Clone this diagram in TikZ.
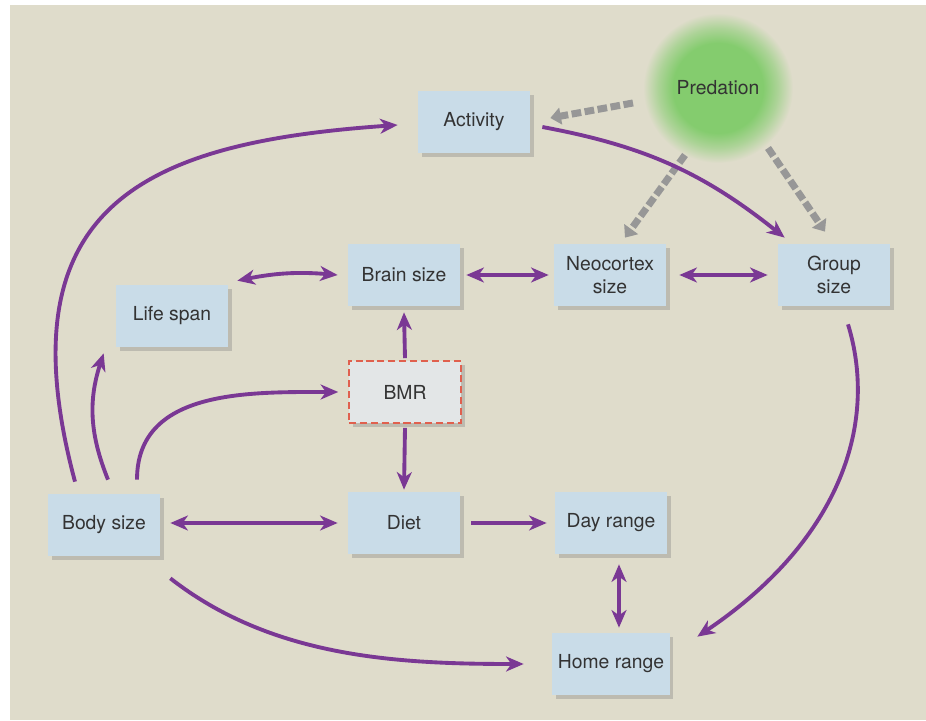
\documentclass[tikz,border=0pt]{standalone}
\usepackage{fontspec}
\setmainfont{TeX Gyre Heros}
\usepackage{xcolor}
\usepackage{tikz}
\usetikzlibrary{arrows.meta}
\usetikzlibrary{shadows}
\usetikzlibrary{calc}
\definecolor{bg}{HTML}{DFDCCB}
\definecolor{boxblue}{HTML}{C9DCE8}
\definecolor{linkpurple}{HTML}{7A3894}
\definecolor{predgreen}{HTML}{84CC6E}
\definecolor{dashgray}{HTML}{979797}
\definecolor{bmrred}{HTML}{E0604E}
\definecolor{bmrfill}{HTML}{E3E6E7}
\pgfdeclareradialshading{predglow}{\pgfpointorigin}{color(0bp)=(predgreen); color(15bp)=(predgreen); color(20bp)=(predgreen!55!bg); color(25bp)=(bg); color(50bp)=(bg)}
\tikzset{ var_box/.style = {rectangle, fill=boxblue, minimum width=2.24cm, minimum height=1.24cm, align=center, text=black!80, font=\fontsize{11}{13.5}\selectfont, drop shadow={shadow xshift=2pt, shadow yshift=-2.5pt, opacity=0.35}} }
\tikzset{ bmr_box/.style = {var_box, fill=bmrfill, draw=bmrred, line width=0.9pt, dash pattern=on 4pt off 2.2pt} }
\tikzset{ pred_node/.style = {circle, minimum size=3cm, shading=predglow, text=black!80, font=\fontsize{11}{13.5}\selectfont} }
\tikzset{ link/.style = {line width=2.2pt, draw=linkpurple, -{Stealth[length=10pt,width=8.5pt,inset=3pt]}} }
\tikzset{ both_link/.style = {link, {Stealth[length=10pt,width=8.5pt,inset=3pt]}-{Stealth[length=10pt,width=8.5pt,inset=3pt]}} }
\tikzset{ pred_link/.style = {line width=4pt, draw=dashgray, dash pattern=on 5.5pt off 2pt, -{Triangle[length=6pt,width=9.5pt]}} }

\begin{document}
\begin{tikzpicture}[x=0.02cm,y=0.02cm]
            \useasboundingbox (0,0) rectangle (926,720);
            \fill[white] (0,0) rectangle (926,720);
            \fill[bg] (10,0) rectangle (926,715);
            \node [style=pred_node] (pred) at (718,632) {Predation};
            \node [style=var_box] (act) at (474,598) {Activity};
            \node [style=var_box] (brain) at (404,445) {Brain size};
            \node [style=var_box] (neo) at (610,445) {Neocortex\\size};
            \node [style=var_box] (group) at (834,445) {Group\\size};
            \node [style=var_box] (life) at (172,404) {Life span};
            \node [style=bmr_box] (bmr) at (405,328) {BMR};
            \node [style=var_box] (body) at (104,195) {Body size};
            \node [style=var_box] (diet) at (404,197) {Diet};
            \node [style=var_box] (day) at (611,197) {Day range};
            \node [style=var_box] (home) at (611,56) {Home range};
            % predation pressure
            \draw[style=pred_link] ($(pred.center)+(-85,-15)$) to ($(act.east)+(20,4)$);
            \draw[style=pred_link] ($(pred.center)+(-33,-67)$) to ($(neo.north)+(15,6)$);
            \draw[style=pred_link] ($(pred.center)+(50,-60)$) to ($(group.north)+(-9,12)$);
            % body size effects
            \draw[style=link] ($(body.north)+(-29,12)$) to[out=105,in=184,out looseness=1.54,in looseness=1.32] ($(act.west)+(-20,-3)$);
            \draw[style=link] ($(body.north)+(4,14)$) to[bend left=20] ($(life.south west)+(-12,-6)$);
            \draw[style=link] ($(body.north)+(33,14)$) to[out=90,in=180,looseness=1.05] ($(bmr.west)+(-10,0)$);
            \draw[style=both_link] ($(body.east)+(10,2)$) to ($(diet.west)+(-10,0)$);
            \draw[style=link] ($(body.south east)+(10,-22)$) to[out=-38,in=180,looseness=0.9] ($(home.west)+(-28,0)$);
            \draw[style=both_link] ($(life.north east)+(9,4)$) to[bend left=8] ($(brain.west)+(-10,0)$);
            \draw[style=link] ($(bmr.north)+(0,2)$) to ($(brain.south)+(0,-6)$);
            \draw[style=link] ($(bmr.south)+(0,-4)$) to ($(diet.north)+(0,2)$);
            \draw[style=both_link] ($(brain.east)+(6,0)$) to ($(neo.west)+(-5,0)$);
            \draw[style=both_link] ($(neo.east)+(13,0)$) to ($(group.west)+(-10,0)$);
            \draw[style=link] ($(act.east)+(12,-5)$) to[bend left=14] ($(group.north west)+(7,6)$);
            \draw[style=link] ($(group.south)+(14,-18)$) to[out=-73,in=34,out looseness=0.8,in looseness=1.23] ($(home.north east)+(27,-4)$);
            \draw[style=link] ($(diet.east)+(11,0)$) to ($(day.west)+(-8,0)$);
            \draw[style=both_link] ($(day.south)+(8,-10)$) to ($(home.north)+(8,5)$);
       \end{tikzpicture}
\end{document}
